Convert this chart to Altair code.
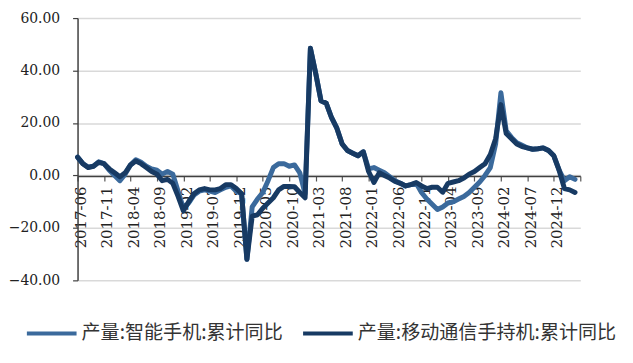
import altair as alt
import pandas as pd

# monthly categories 2017-06 .. 2025-04
months = []
for i in range(95):
    y = 2017 + (5 + i) // 12
    m = (5 + i) % 12 + 1
    months.append(f"{y}-{m:02d}")

series_names = ["产量:智能手机:累计同比", "产量:移动通信手持机:累计同比"]

smartphone = [7.0, 4.5, 3.2, 3.5, 5.2, 4.5, 2.0, 0.0, -2.0, 0.5,
              4.0, 6.0, 5.0, 3.5, 2.5, 2.0, 0.5, 1.5, 0.5, -6.0,
              -12.5, -10.5, -7.5, -6.0, -5.5, -6.0, -6.5, -5.5, -4.5, -4.0,
              -6.0, -7.0, -32.0, -12.0, -9.0, -6.5, -2.0, 3.0, 4.5, 4.5,
              3.5, 4.0, 1.0, -7.0, 48.5, 39.0, 28.5, 27.5, 22.0, 18.0,
              12.0, 9.5, 8.5, 7.5, 9.0, 2.5, 3.0, 2.0, 1.0, -0.5,
              -2.0, -3.0, -4.0, -3.5, -3.0, -6.5, -9.0, -11.0, -13.0, -12.0,
              -10.5, -10.0, -9.0, -8.0, -6.5, -4.5, -2.5, 0.0, 3.0, 12.0,
              31.5, 17.0, 14.5, 12.5, 11.5, 10.5, 10.0, 10.2, 10.5, 9.5,
              7.5, 2.0, -2.0, -0.5, -1.5]

mobile = [7.0, 4.5, 3.0, 3.5, 5.0, 4.5, 2.5, 1.0, -0.5, 1.0,
          4.0, 5.5, 4.5, 3.0, 1.5, 0.5, -2.0, -1.5, -3.0, -8.0,
          -13.5, -10.0, -7.0, -5.5, -5.0, -5.5, -5.5, -5.0, -3.5, -3.5,
          -5.0, -7.0, -32.0, -15.5, -15.0, -12.5, -10.5, -8.5, -5.5, -4.2,
          -4.2, -4.3, -6.5, -8.5, 48.5, 39.0, 28.5, 27.5, 22.0, 18.0,
          12.0, 9.5, 8.5, 7.5, 9.0, 1.5, -2.7, 1.0, 0.0, -1.0,
          -2.3, -3.0, -4.0, -3.5, -2.7, -4.0, -5.0, -4.5, -4.5, -6.4,
          -3.0, -2.5, -2.0, -1.0, 0.5, 1.5, 3.0, 4.5, 8.0, 14.0,
          27.0, 16.0, 14.0, 12.0, 11.0, 10.5, 10.0, 10.2, 10.5, 9.5,
          7.5, 2.0, -5.0, -5.5, -6.5]

y_ticks = [-40, -20, 0, 20, 40, 60]
x_tick_idx = list(range(0, 96, 5))

rows = []
for i, mo in enumerate(months):
    rows.append({"idx": i, "month": mo, "series": series_names[0], "value": smartphone[i]})
    rows.append({"idx": i, "month": mo, "series": series_names[1], "value": mobile[i]})
df = pd.DataFrame(rows)

color_scale = alt.Scale(domain=series_names, range=["#3B6A9C", "#173A63"])

serif = "DejaVu Serif"

label_expr = ("datum.value > 90 ? '' : "
              "toString(2017 + floor((datum.value + 5) / 12)) + '-' + "
              "(((datum.value + 5) % 12 + 1) < 10 ? '0' : '') + "
              "toString((datum.value + 5) % 12 + 1)")

x_enc = alt.X("idx:Q",
              scale=alt.Scale(domain=[0, 95], nice=False, zero=False),
              axis=alt.Axis(values=x_tick_idx, labelExpr=label_expr, title=None,
                            grid=False, offset=-105, labelAngle=270,
                            labelFont=serif, labelFontSize=15,
                            labelColor="#222222", labelPadding=5, labelOffset=3,
                            tickSize=5, tickColor="#555555", tickWidth=1.2,
                            domainColor="#404040", domainWidth=1.5,
                            labelOverlap=False, labelFlush=False))

y_enc = alt.Y("value:Q",
              scale=alt.Scale(domain=[-40, 60], nice=False),
              axis=alt.Axis(values=y_ticks, format=".2f", title=None,
                            labelFont=serif, labelFontSize=14,
                            labelColor="#222222", labelPadding=13,
                            tickSize=5, tickColor="#404040", tickWidth=1.2,
                            domainColor="#404040", domainWidth=1.5,
                            gridColor="#D9D9D9", gridWidth=1.5))

color_enc = alt.Color("series:N", scale=color_scale,
                      legend=alt.Legend(title=None, orient="none", direction="horizontal",
                                        legendX=-53, legendY=290,
                                        symbolType="stroke", symbolSize=2500,
                                        symbolStrokeWidth=4, labelOffset=3,
                                        columnPadding=12, labelLimit=400,
                                        labelFont="Noto Sans CJK SC", labelFontSize=19.2,
                                        labelColor="#333333"))

base = alt.Chart(df).mark_line(strokeWidth=5, strokeJoin="round", strokeCap="round")

layer_smart = base.transform_filter(alt.datum.series == series_names[0]).encode(
    x=x_enc, y=y_enc, color=color_enc)
layer_mobile = base.transform_filter(alt.datum.series == series_names[1]).encode(
    x=x_enc, y=y_enc, color=color_enc)

chart = alt.layer(layer_smart, layer_mobile).properties(
    width=506, height=264,
    autosize=alt.AutoSizeParams(type="none"),
    padding={"left": 70, "top": 9, "right": 45, "bottom": 76},
    background="white",
).configure_view(stroke=None)

chart.save("out.html", embed_options={"renderer": "svg", "actions": False})
